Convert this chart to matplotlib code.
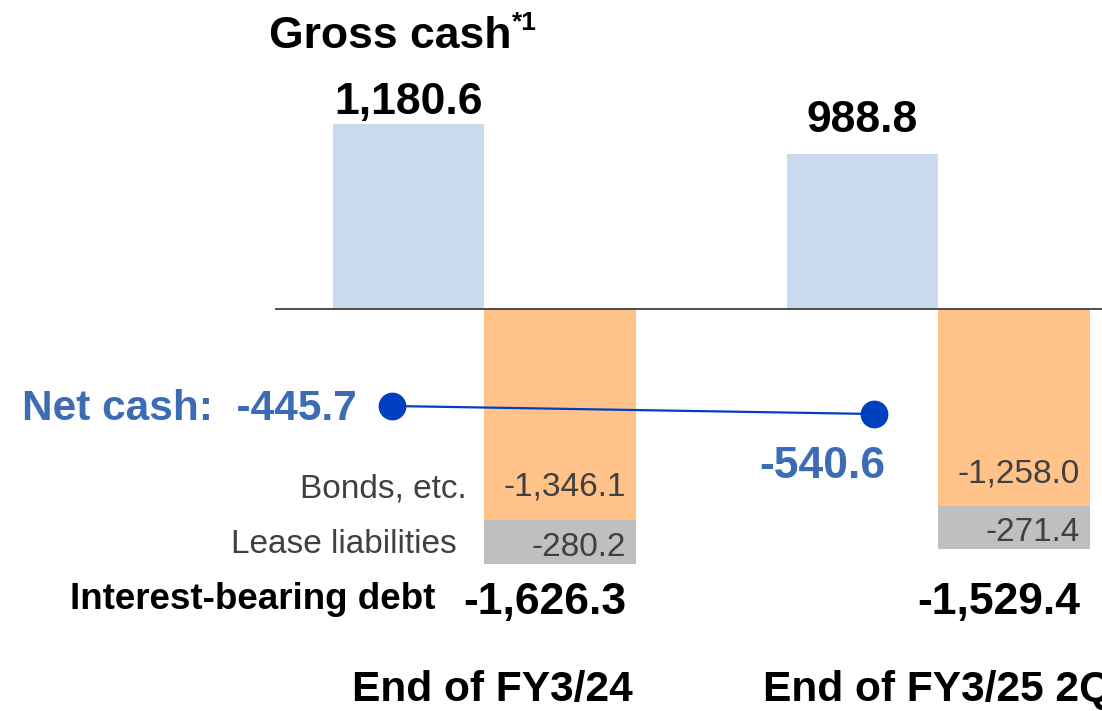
import matplotlib
matplotlib.use('Agg')
import matplotlib.pyplot as plt
import matplotlib.transforms as mtransforms
import numpy as np

# ---- data ----
categories = ['End of FY3/24', 'End of FY3/25 2Q']
gross_cash = [1180.6, 988.8]
bonds = [-1346.1, -1258.0]
lease = [-280.2, -271.4]
debt_total = [-1626.3, -1529.4]
net_cash = [-445.7, -540.6]

plt.rcParams['font.family'] = ['Liberation Sans', 'DejaVu Sans']

W, H = 1102, 711
fig = plt.figure(figsize=(W / 100, H / 100), dpi=100)
ax = fig.add_axes([0, 0, 1, 1])
ax.axis('off')

def fx(px):
    return px / W

def fy(py):
    return 1 - py / H

# layout: category boundary at pixel 484 + 454*i, zero line at y=309 px
CAT_PX, CAT0_PX = 454.0, 484.0
bw = 151.5 / CAT_PX
ax.set_xlim((0 - CAT0_PX) / CAT_PX, (W - CAT0_PX) / CAT_PX)
scale = 0.1566  # px per unit
ax.set_ylim(-(H - 309) / scale, 309 / scale)

x = np.arange(len(categories))
blue, orange, grey = '#C9D9EE', '#FFC288', '#BFBFBF'
ax.bar(x - bw / 2, gross_cash, width=bw, color=blue, zorder=2)
ax.bar(x + bw / 2, bonds, width=bw, color=orange, zorder=2)
ax.bar(x + bw / 2, lease, width=bw, bottom=bonds, color=grey, zorder=2)
ax.axhline(0, xmin=276 / W, xmax=1, color='#404040', lw=1.3, zorder=3)

# gross cash labels
gpad = [10, 22]
for i, v in enumerate(gross_cash):
    ax.annotate(f'{v:,.1f}', (x[i] - bw / 2, v), xytext=(0, gpad[i]),
                textcoords='offset pixels', ha='center', va='baseline',
                fontsize=32, fontweight='bold', color='black')

trans = mtransforms.blended_transform_factory(ax.transData, fig.transFigure)

# bonds / lease labels inside bars, totals in a fixed row
for i in range(len(categories)):
    ax.annotate(f'{bonds[i]:,.1f}', (x[i] + bw, bonds[i]), xytext=(-10, 24),
                textcoords='offset pixels', ha='right', va='baseline',
                fontsize=24, color='#404040')
    ax.annotate(f'{lease[i]:,.1f}', (x[i] + bw, bonds[i] + lease[i]), xytext=(-10, 8),
                textcoords='offset pixels', ha='right', va='baseline',
                fontsize=24, color='#404040')
    ax.annotate(f'{debt_total[i]:,.1f}', (x[i] + bw, fy(614)), xycoords=trans,
                xytext=(-9, 0), textcoords='offset pixels', ha='right', va='baseline',
                fontsize=32, fontweight='bold', color='black')

# category labels
cat_off = [8, 0]
for i, c in enumerate(categories):
    ax.annotate(c, (x[i], fy(701)), xycoords=trans, xytext=(cat_off[i], 0),
                textcoords='offset pixels', ha='center', va='baseline',
                fontsize=30.6, fontweight='bold', color='black', annotation_clip=False)

# row labels
fig.text(fx(467), fy(497), 'Bonds, etc.', ha='right', va='baseline', fontsize=24, color='#404040')
fig.text(fx(457), fy(553), 'Lease liabilities', ha='right', va='baseline', fontsize=24, color='#404040')
fig.text(fx(435), fy(609), 'Interest-bearing debt', ha='right', va='baseline', fontsize=26.5,
         fontweight='bold', color='black')

# title
fig.text(fx(390), fy(48), 'Gross cash', ha='center', va='baseline', fontsize=32,
         fontweight='bold', color='black')
fig.text(fx(512), fy(30), '*1', ha='left', va='baseline', fontsize=19,
         fontweight='bold', color='black')

# net cash line on secondary axis
ax2 = fig.add_axes([0, 0, 1, 1], sharex=ax)
ax2.axis('off')
ax2.patch.set_alpha(0)
nscale = 8 / 94.9
zero_px = 406 - 445.7 * nscale
ax2.set_ylim(-(H - zero_px) / nscale, zero_px / nscale)
NET_STEP, NET_OFF = 482 / CAT_PX, (392 - CAT0_PX) / CAT_PX
xn = x * NET_STEP + NET_OFF
dot = '#0040C0'
ax2.plot(xn, net_cash, color=dot, lw=1.6, marker='o', markersize=19, zorder=5)
netblue = '#3C6DB4'
fig.text(fx(22), fy(420), f'Net cash:  {net_cash[0]:,.1f}', ha='left', va='baseline',
         fontsize=30.5, fontweight='bold', color=netblue)
ax2.annotate(f'{net_cash[1]:,.1f}', (xn[1], net_cash[1]), xytext=(-52, -64),
             textcoords='offset pixels', ha='center', va='baseline',
             fontsize=32, fontweight='bold', color=netblue)

fig.savefig('out.png', dpi=100)
